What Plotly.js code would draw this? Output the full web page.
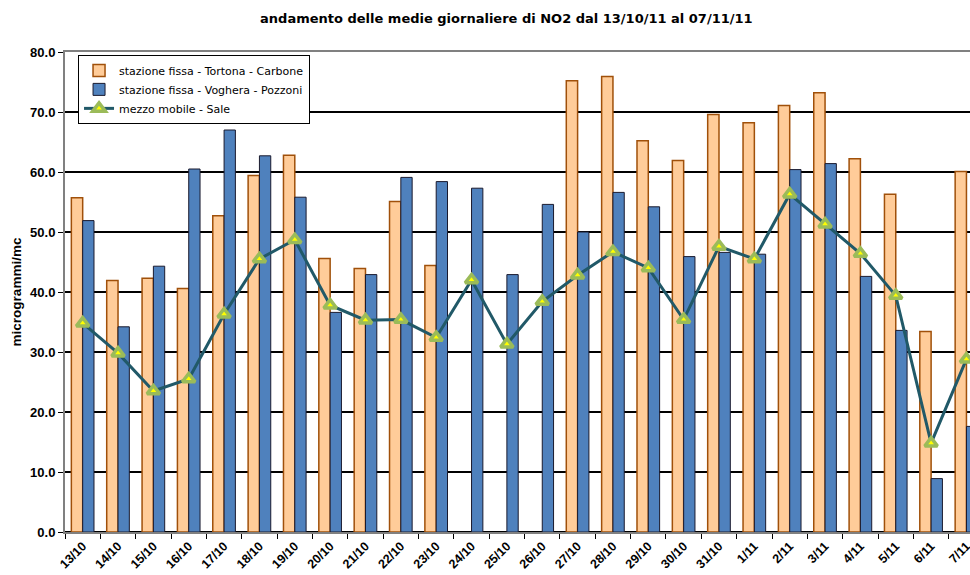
<!DOCTYPE html>
<html>
<head>
<meta charset="utf-8">
<script src="https://cdn.plot.ly/plotly-3.0.1.min.js"></script>
<style>
  html, body { margin: 0; padding: 0; background: #fff; overflow: hidden; }
  #chart { width: 970px; height: 575px; }
</style>
</head>
<body>
<div id="chart"></div>
<script>
var giorni = ['13/10','14/10','15/10','16/10','17/10','18/10','19/10','20/10','21/10','22/10',
              '23/10','24/10','25/10','26/10','27/10','28/10','29/10','30/10','31/10',
              '1/11','2/11','3/11','4/11','5/11','6/11','7/11'];

var tortona = [55.7, 41.9, 42.3, 40.6, 52.7, 59.4, 62.8, 45.6, 43.9, 55.1,
               44.4, null, null, null, 75.2, 75.9, 65.2, 61.9, 69.6,
               68.2, 71.1, 73.2, 62.2, 56.3, 33.4, 60.1];

var voghera = [51.9, 34.2, 44.3, 60.5, 67.0, 62.7, 55.8, 36.6, 42.9, 59.1,
               58.4, 57.3, 42.9, 54.6, 50.0, 56.6, 54.2, 45.9, 46.6,
               46.3, 60.4, 61.4, 42.6, 33.6, 8.9, 17.6];

var sale = [34.8, 29.8, 23.5, 25.5, 36.3, 45.5, 48.7, 37.8, 35.3, 35.4,
            32.4, 42.0, 31.3, 38.4, 42.8, 46.7, 44.0, 35.4, 47.6,
            45.5, 56.3, 51.3, 46.4, 39.4, 14.8, 28.8];

var font = 'Arial, "Liberation Sans", sans-serif';
var wide = '"DejaVu Sans", Arial, sans-serif';

var trace1 = {
  x: giorni,
  y: tortona,
  type: 'bar',
  name: 'stazione fissa - Tortona - Carbone',
  marker: {
    color: '#FFCC99',
    line: { color: '#A0500A', width: 1.5 }
  }
};

var trace2 = {
  x: giorni,
  y: voghera,
  type: 'bar',
  name: 'stazione fissa - Voghera - Pozzoni',
  marker: {
    color: '#4F81BD',
    line: { color: '#1A1A2E', width: 1 }
  }
};

var trace3 = {
  x: giorni,
  y: sale,
  type: 'scatter',
  mode: 'lines+markers',
  name: 'mezzo mobile - Sale',
  line: { color: '#215968', width: 3 },
  marker: {
    symbol: 'triangle-up',
    size: 11,
    color: '#FFFF00',
    line: { color: '#9BBB59', width: 3.5 }
  }
};

var data = [trace1, trace2, trace3];

var layout = {
  width: 970,
  height: 575,
  margin: { l: 65, r: 0, t: 52, b: 43 },
  paper_bgcolor: '#ffffff',
  plot_bgcolor: '#ffffff',
  font: { family: font, color: '#000000' },
  title: {
    text: '<b>andamento delle medie giornaliere di NO2 dal 13/10/11 al 07/11/11</b>',
    font: { size: 13, family: wide, color: '#000000' },
    xref: 'container', x: 0.522, xanchor: 'center',
    yref: 'container', y: 0.968, yanchor: 'middle'
  },
  barmode: 'group',
  bargap: 0.36,
  bargroupgap: 0,
  showlegend: true,
  legend: {
    x: 0.0144, y: 0.994, xanchor: 'left', yanchor: 'top',
    bgcolor: '#ffffff',
    bordercolor: '#000000',
    borderwidth: 1,
    font: { size: 11, family: wide },
    tracegroupgap: 0,
    itemwidth: 30
  },
  xaxis: {
    type: 'category',
    range: [-0.5, 25.1],
    tickangle: -45,
    tickfont: { size: 12.5, family: font },
    tickprefix: '<b>', ticksuffix: '</b>',
    ticks: 'outside',
    tickson: 'boundaries',
    ticklen: 5,
    tickcolor: '#000000',
    showline: true,
    linecolor: '#808080',
    linewidth: 2,
    mirror: true,
    showgrid: false
  },
  yaxis: {
    range: [0, 80],
    dtick: 10,
    tickformat: '.1f',
    tickfont: { size: 13, family: font },
    tickprefix: '<b>', ticksuffix: '</b>',
    ticks: 'outside',
    ticklen: 5,
    tickcolor: '#000000',
    showline: true,
    linecolor: '#808080',
    linewidth: 2,
    showgrid: true,
    gridcolor: '#000000',
    gridwidth: 2,
    zeroline: true,
    zerolinecolor: '#000000',
    zerolinewidth: 2,
    title: {
      text: '<b>microgrammi/mc</b>',
      font: { size: 13.5, family: font },
      standoff: 5
    }
  }
};

Plotly.newPlot('chart', data, layout, { displayModeBar: false, staticPlot: true });
</script>
</body>
</html>
